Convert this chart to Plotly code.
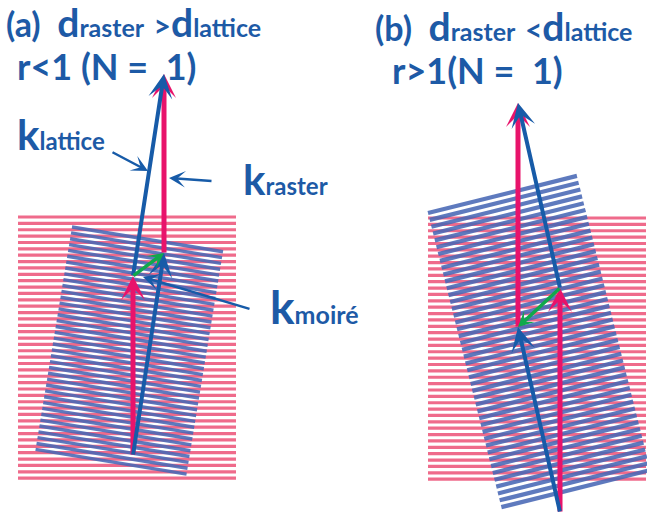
import numpy as np
import plotly.graph_objects as go

W, H = 647, 513

# horizontal raster gratings (pink), one per panel
raster_x = [(18, 236), (428, 646)]
raster_top = [217, 218]
raster_pitch = [6.37, 6.37]
raster_count = [42, 42]

# tilted lattice gratings (blue): top-left corner, tilt in degrees
# (positive = falling to the right), pitch, number of lines, line length
lattice_corner = [(72, 227), (428, 213)]
lattice_tilt = [9.3, -14.0]
lattice_pitch = [5.93, 7.05]
lattice_count = [39, 44]
lattice_len = [153, 153.5]
lattice_width = [3.4, 4.2]

# wave vectors per panel: origin, k_raster, k_lattice
origin = [(133, 455), (560, 512)]
k_raster = [(0, -179), (0, -224)]
k_lattice = [(31, -202), (-42, -185)]

PINK_GRID = "#ef6b8b"
BLUE_GRID = "#4868b6"
PINK = "#e8136b"
BLUE = "#175ba8"
GREEN = "#10a84c"
TEXT = "#1d5aa6"
FONT = "Lato"

fig = go.Figure()

# raster lines
for (x0, x1), top, p, n in zip(raster_x, raster_top, raster_pitch, raster_count):
    xs, ys = [], []
    for i in range(n):
        y = top + i * p
        xs += [x0, x1, None]
        ys += [y, y, None]
    fig.add_trace(go.Scatter(x=xs, y=ys, mode="lines",
                             line=dict(color=PINK_GRID, width=3.2),
                             hoverinfo="skip", showlegend=False))

# lattice lines
for (cx, cy), t, p, n, L, w in zip(lattice_corner, lattice_tilt, lattice_pitch,
                                  lattice_count, lattice_len, lattice_width):
    th = np.radians(t)
    u = np.array([np.cos(th), np.sin(th)])
    v = np.array([-np.sin(th), np.cos(th)])
    xs, ys = [], []
    for i in range(n):
        a = np.array([cx, cy]) + i * p * v
        b = a + L * u
        xs += [a[0], b[0], None]
        ys += [a[1], b[1], None]
    fig.add_trace(go.Scatter(x=xs, y=ys, mode="lines", opacity=0.88,
                             line=dict(color=BLUE_GRID, width=w),
                             hoverinfo="skip", showlegend=False))


def arrow(tail, head, color, width, size, style=3):
    fig.add_annotation(x=head[0], y=head[1], ax=tail[0], ay=tail[1],
                       xref="x", yref="y", axref="x", ayref="y",
                       text="", showarrow=True, arrowhead=style,
                       arrowwidth=width, arrowsize=size, arrowcolor=color,
                       standoff=0, startstandoff=0, borderpad=0)


# vector parallelograms
for (ox, oy), (rx, ry), (lx, ly) in zip(origin, k_raster, k_lattice):
    R = (ox + rx, oy + ry)
    Lp = (ox + lx, oy + ly)
    T = (ox + rx + lx, oy + ry + ly)
    arrow((ox, oy), R, PINK, 5, 0.8)
    arrow((ox, oy), Lp, BLUE, 4, 1.0)
    arrow(Lp, T, PINK, 5, 0.8)
    arrow(R, T, BLUE, 4, 1.0)
    arrow(R, Lp, GREEN, 3.5, 0.75)

# leader lines for the labels in panel (a)
arrow((112, 152), (148, 171), BLUE, 2.5, 1.1)
arrow((212, 181), (169, 178), BLUE, 2.5, 1.1)
arrow((250, 309), (143, 277), BLUE, 2.5, 1.1)


def small(s, size):
    return f'<span style="font-size:{size}px">{s}</span>'


def label(x, y, text, size):
    fig.add_annotation(x=x, y=y, xref="x", yref="y", text=text, showarrow=False,
                       xanchor="left", yanchor="middle",
                       font=dict(family=FONT, size=size, color=TEXT, weight="bold"))


label(4, 22, small("(a)&nbsp;&nbsp;", 34) + "d" + small("raster", 25) + " " + small("&gt;", 30)
      + "d" + small("lattice", 25), 39)
label(15, 66, "r&lt;1&nbsp;(N&nbsp;=&nbsp;&nbsp;1)", 36)
label(373, 26, small("(b)&nbsp;&nbsp;", 34) + "d" + small("raster", 25) + " " + small("&lt;", 30)
      + "d" + small("lattice", 25), 39)
label(390, 70, "r&gt;1(N&nbsp;=&nbsp;&nbsp;1)", 36)
label(15, 134, "k" + small("lattice", 24), 42)
label(241, 179, "k" + small("raster", 24), 42)
label(268, 306, "k" + small("moiré", 25), 46)

fig.update_layout(
    width=W, height=H, margin=dict(l=0, r=0, t=0, b=0),
    paper_bgcolor="white", plot_bgcolor="white",
    xaxis=dict(range=[0, W], visible=False, fixedrange=True),
    yaxis=dict(range=[H, 0], visible=False, fixedrange=True),
)

fig.write_html("out.html")
